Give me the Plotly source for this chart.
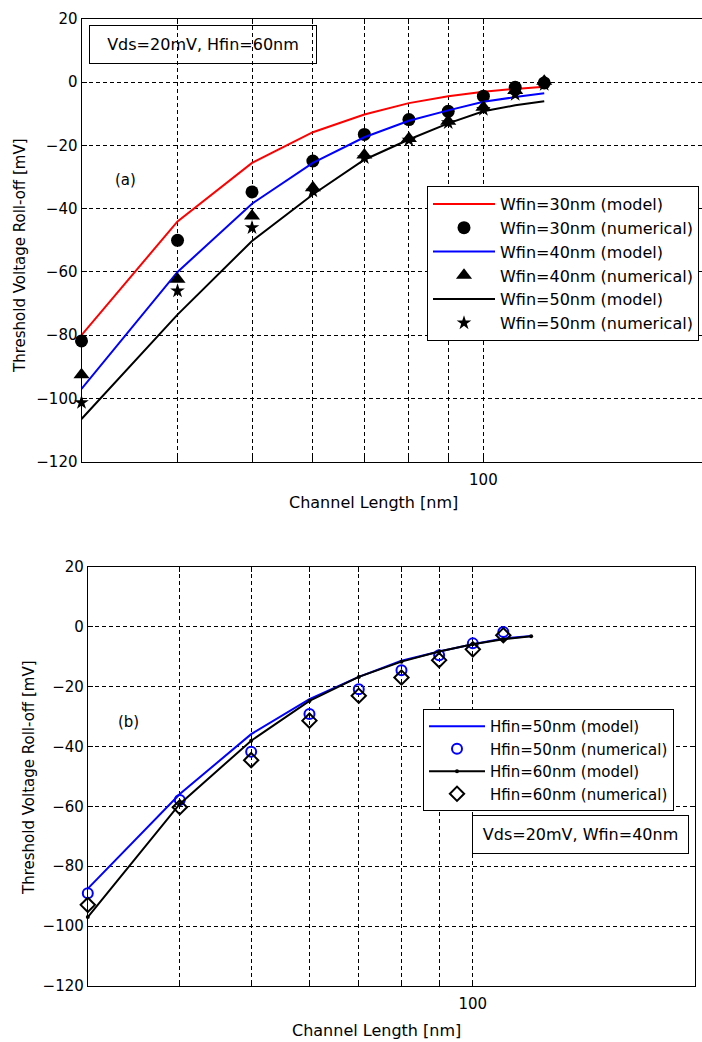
import plotly.graph_objects as go
import math

# ---------------- data ----------------
# Panel (a): Vds=20mV, Hfin=60nm
length_a = [30, 40, 50, 60, 70, 80, 90, 100, 110, 120]
w30_model = [-80.0, -44.0, -25.5, -15.8, -10.2, -6.6, -4.4, -3.0, -2.1, -1.4]
w40_model = [-97.0, -60.0, -38.4, -25.5, -17.4, -12.2, -8.9, -6.2, -4.7, -3.5]
w50_model = [-106.5, -73.5, -50.2, -35.5, -24.5, -18.1, -13.0, -9.2, -7.3, -6.0]
w30_num = [-81.8, -50.0, -34.7, -24.9, -16.5, -11.8, -9.2, -4.4, -1.6, -0.2]
w40_num = [-92.5, -62.3, -42.3, -33.4, -23.0, -17.8, -12.3, -7.9, -2.6, 0.3]
w50_num = [-101.3, -66.0, -46.0, -34.4, -23.9, -18.3, -12.8, -8.6, -3.9, -0.7]

# Panel (b): Vds=20mV, Wfin=40nm
length_b_model = [30, 40, 50, 60, 70, 80, 90, 100, 110, 120]
h50_model = [-87.5, -55.9, -35.9, -24.2, -16.8, -11.4, -8.3, -5.9, -4.0, -3.1]
h60_model = [-97.0, -59.2, -38.1, -24.8, -16.8, -11.7, -8.3, -5.9, -4.2, -3.2]
length_b_num = [30, 40, 50, 60, 70, 80, 90, 100, 110]
h50_num = [-89.0, -57.9, -41.8, -29.2, -20.9, -14.6, -9.6, -5.6, -1.8]
h60_num = [-92.9, -60.3, -44.6, -31.4, -23.1, -17.0, -11.2, -7.6, -2.9]

y_ticks = [-120, -100, -80, -60, -40, -20, 0, 20]
x_grid = [40, 50, 60, 70, 80, 90, 100, 200]
x_grid_text = ["", "", "", "", "", "", "100", ""]

# ---------------- layout helpers ----------------
W, H = 702, 1042
FONT = "DejaVu Sans"


def fx(p):
    return p / W


def fy(p):
    return 1 - p / H


fig = go.Figure()

# Panel (a) traces
fig.add_trace(go.Scatter(x=length_a, y=w30_model, mode="lines", name="Wfin=30nm (model)",
                         line=dict(color="#ff0000", width=2), xaxis="x", yaxis="y", legend="legend"))
fig.add_trace(go.Scatter(x=length_a, y=w30_num, mode="markers", name="Wfin=30nm (numerical)",
                         marker=dict(symbol="circle", size=13, color="black"), cliponaxis=False,
                         xaxis="x", yaxis="y", legend="legend"))
fig.add_trace(go.Scatter(x=length_a, y=w40_model, mode="lines", name="Wfin=40nm (model)",
                         line=dict(color="#0000ff", width=2), xaxis="x", yaxis="y", legend="legend"))
fig.add_trace(go.Scatter(x=length_a, y=w40_num, mode="markers", name="Wfin=40nm (numerical)",
                         marker=dict(symbol="triangle-up", size=14, color="black"), cliponaxis=False,
                         xaxis="x", yaxis="y", legend="legend"))
fig.add_trace(go.Scatter(x=length_a, y=w50_model, mode="lines", name="Wfin=50nm (model)",
                         line=dict(color="black", width=2), xaxis="x", yaxis="y", legend="legend"))
fig.add_trace(go.Scatter(x=length_a, y=w50_num, mode="markers", name="Wfin=50nm (numerical)",
                         marker=dict(symbol="star", size=11, color="black"), cliponaxis=False,
                         xaxis="x", yaxis="y", legend="legend"))

# Panel (b) traces
fig.add_trace(go.Scatter(x=length_b_model, y=h50_model, mode="lines", name="Hfin=50nm (model)",
                         line=dict(color="#0000ff", width=2), xaxis="x2", yaxis="y2", legend="legend2"))
fig.add_trace(go.Scatter(x=length_b_num, y=h50_num, mode="markers", name="Hfin=50nm (numerical)",
                         marker=dict(symbol="circle-open", size=10, color="#0000ff",
                                     line=dict(width=2, color="#0000ff")), cliponaxis=False,
                         xaxis="x2", yaxis="y2", legend="legend2"))
fig.add_trace(go.Scatter(x=length_b_model, y=h60_model, mode="lines+markers", name="Hfin=60nm (model)",
                         line=dict(color="black", width=2),
                         marker=dict(symbol="circle", size=4, color="black"), cliponaxis=False,
                         xaxis="x2", yaxis="y2", legend="legend2"))
fig.add_trace(go.Scatter(x=length_b_num, y=h60_num, mode="markers", name="Hfin=60nm (numerical)",
                         marker=dict(symbol="diamond-open", size=11, color="black",
                                     line=dict(width=2, color="black")), cliponaxis=False,
                         xaxis="x2", yaxis="y2", legend="legend2"))

tickfont = dict(family=FONT, size=15, color="black")
grid_common = dict(showgrid=True, gridcolor="black", gridwidth=1, griddash="4px,3px",
                   showline=True, linecolor="black", linewidth=1,
                   ticks="inside", ticklen=5, tickcolor="black",
                   tickfont=tickfont, zeroline=False, automargin=False)

xa_common = dict(type="log", tickmode="array", tickvals=x_grid, ticktext=x_grid_text,
                 ticklabelstandoff=4, **grid_common)
ya_common = dict(range=[-120, 20], tickmode="array", tickvals=y_ticks, **grid_common)

fig.update_layout(
    width=W, height=H,
    margin=dict(l=0, r=0, t=0, b=0),
    paper_bgcolor="white", plot_bgcolor="white",
    font=dict(family=FONT, size=15, color="black"),
    xaxis=dict(domain=[fx(81.5), 1.0], range=[math.log10(30), math.log10(192.5)],
               anchor="y", mirror="ticks", **xa_common),
    yaxis=dict(domain=[fy(461.7), fy(19)], anchor="x", mirror=False, **ya_common),
    xaxis2=dict(domain=[fx(87.8), fx(694.5)], range=[math.log10(30), math.log10(200)],
                anchor="y2", mirror="ticks", **xa_common),
    yaxis2=dict(domain=[fy(986), fy(566.7)], anchor="x2", mirror="ticks", **ya_common),
    legend=dict(x=fx(427), y=fy(186), xanchor="left", yanchor="top", xref="paper", yref="paper",
                bgcolor="white", bordercolor="black", borderwidth=1,
                font=dict(family=FONT, size=16, color="black"), itemwidth=62,
                tracegroupgap=0),
    legend2=dict(x=fx(423), y=fy(709), xanchor="left", yanchor="top", xref="paper", yref="paper",
                 bgcolor="white", bordercolor="black", borderwidth=1,
                 font=dict(family=FONT, size=15, color="black"), itemwidth=56,
                 tracegroupgap=0),
    showlegend=True,
)

annotations = [
    # axis titles panel (a)
    dict(text="Channel Length [nm]", x=fx(374), y=fy(503), xref="paper", yref="paper",
         showarrow=False, xanchor="center", yanchor="middle", font=dict(size=16)),
    dict(text="Threshold Voltage Roll-off [mV]", x=fx(20), y=fy(256), xref="paper", yref="paper",
         showarrow=False, xanchor="center", yanchor="middle", textangle=-90, font=dict(size=15)),
    # axis titles panel (b)
    dict(text="Channel Length [nm]", x=fx(376), y=fy(1030), xref="paper", yref="paper",
         showarrow=False, xanchor="center", yanchor="middle", font=dict(size=16)),
    dict(text="Threshold Voltage Roll-off [mV]", x=fx(29), y=fy(778), xref="paper", yref="paper",
         showarrow=False, xanchor="center", yanchor="middle", textangle=-90, font=dict(size=15)),
    # panel labels
    dict(text="(a)", x=fx(125.5), y=fy(180), xref="paper", yref="paper",
         showarrow=False, xanchor="center", yanchor="middle", font=dict(size=15)),
    dict(text="(b)", x=fx(128.7), y=fy(721.7), xref="paper", yref="paper",
         showarrow=False, xanchor="center", yanchor="middle", font=dict(size=15)),
    # condition boxes
    dict(text="Vds=20mV, Hfin=60nm", x=fx(202.8), y=fy(44.2), xref="paper", yref="paper",
         showarrow=False, xanchor="center", yanchor="middle", font=dict(size=16),
         bordercolor="black", borderwidth=1, borderpad=3, width=220, height=31),
    dict(text="Vds=20mV, Wfin=40nm", x=fx(580), y=fy(834), xref="paper", yref="paper",
         showarrow=False, xanchor="center", yanchor="middle", font=dict(size=16),
         bordercolor="black", borderwidth=1, borderpad=3, width=209, height=31),
]
fig.update_layout(annotations=annotations)

fig.write_html(
    "out.html",
    config={"displayModeBar": False},
    post_script="document.body.style.margin='0px';document.body.style.overflow='hidden';"
                "document.documentElement.style.overflow='hidden';",
)
